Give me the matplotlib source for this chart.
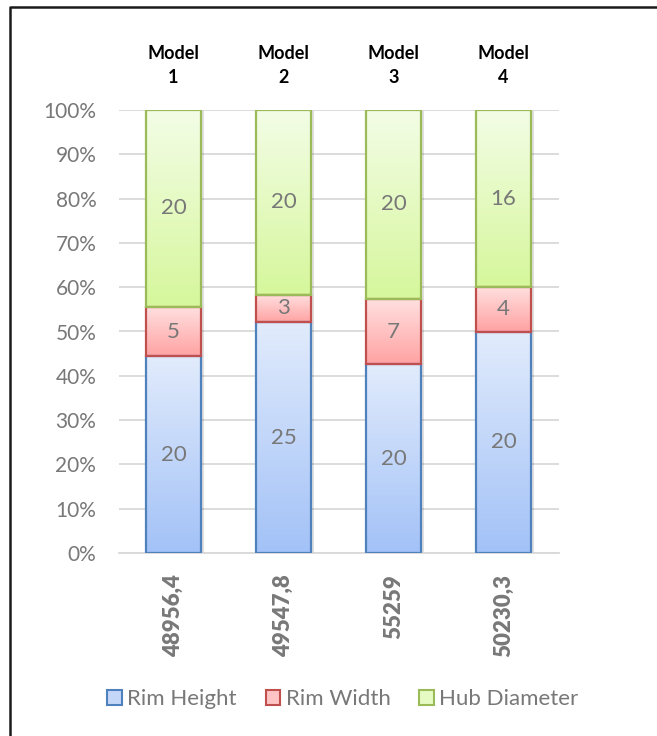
import numpy as np
import matplotlib.pyplot as plt
import matplotlib.patheffects as pe
from matplotlib.colors import LinearSegmentedColormap
from matplotlib.patches import Patch
from matplotlib.lines import Line2D
from matplotlib.ticker import PercentFormatter, MultipleLocator

plt.rcParams['font.family'] = ['Lato', 'DejaVu Sans']

# data
models = ['Model\n1', 'Model\n2', 'Model\n3', 'Model\n4']
total_labels = ['48956,4', '49547,8', '55259', '50230,3']
series_names = ['Rim Height', 'Rim Width', 'Hub Diameter']
rim_height = [20, 25, 20, 20]
rim_width = [5, 3, 7, 4]
hub_diameter = [20, 20, 20, 16]

# colours: gradient top / bottom and outline per series
grad_top = ['#e1ebfc', '#ffe0e0', '#f3fde6']
grad_bottom = ['#a3c2f7', '#ffa3a3', '#d6f79c']
edge_cols = ['#4f81bd', '#c0504d', '#9bbb59']
legend_fill = ['#c4d7f9', '#ffc4c4', '#e6fbc4']
text_grey = '#787878'

values = np.array([rim_height, rim_width, hub_diameter], dtype=float)
shares = values / values.sum(axis=0)
x = np.arange(len(models))

fig = plt.figure(figsize=(6.57, 7.36), dpi=100)
ax = fig.add_axes([118.5 / 657, 1 - 553 / 736, 440 / 657, 443 / 736])

bottom = np.zeros(len(x))
for i in range(len(series_names)):
    bars = ax.bar(x, shares[i], 0.5, bottom=bottom, color=grad_bottom[i], zorder=2)
    cmap = LinearSegmentedColormap.from_list('g%d' % i, [grad_bottom[i], grad_top[i]])
    for b in bars:
        b.set_path_effects([pe.SimplePatchShadow(offset=(2, -1), shadow_rgbFace='k', alpha=0.12), pe.Normal()])
        x0, y0 = b.get_x(), b.get_y()
        im = ax.imshow(np.linspace(0, 1, 100).reshape(-1, 1), cmap=cmap, origin='lower', aspect='auto',
                       extent=[x0, x0 + b.get_width(), y0, y0 + b.get_height()], zorder=3)
        im.set_clip_path(b)
    ax.bar(x, shares[i], 0.5, bottom=bottom, fill=False, edgecolor=edge_cols[i], linewidth=1.6, zorder=4)
    for xi, s, b0, v in zip(x, shares[i], bottom, values[i]):
        ax.text(xi, b0 + s / 2, '%d' % v, ha='center', va='center', fontsize=16, color=text_grey, zorder=5)
    bottom += shares[i]

ax.set_xlim(-0.5, len(x) - 0.5)
ax.set_ylim(0, 1)

# model names above the bars
for xi, m in zip(x, models):
    ax.annotate(m, (xi, 1), xycoords=('data', 'axes fraction'), xytext=(0, 32), textcoords='offset points',
                ha='center', va='center', fontsize=13, fontweight='bold', linespacing=1.45, annotation_clip=False)

ax.set_xticks(x, total_labels, rotation=90, fontsize=16, fontweight='heavy', color=text_grey)
ax.tick_params(axis='x', length=0, pad=15)
ax.yaxis.set_major_locator(MultipleLocator(0.1))
ax.yaxis.set_major_formatter(PercentFormatter(1, decimals=0))
ax.tick_params(axis='y', length=0, pad=16, labelsize=15, labelcolor=text_grey)
ax.grid(axis='y', color='#d9d9d9', linewidth=1.3, zorder=0)
ax.set_axisbelow(True)
for side in ['top', 'right', 'left']:
    ax.spines[side].set_visible(False)
ax.spines['bottom'].set_color('#d9d9d9')
ax.spines['bottom'].set_linewidth(1.3)

handles = [Patch(facecolor=legend_fill[i], edgecolor=edge_cols[i], linewidth=1.5) for i in range(3)]
fig.legend(handles, series_names, loc='center', bbox_to_anchor=(343 / 657, 1 - 699 / 736), ncol=3,
           frameon=False, fontsize=16, labelcolor=text_grey, handlelength=0.65, handleheight=0.65,
           handletextpad=0.25, columnspacing=1.3)

# frame round the chart (cut off at right and bottom)
fig.add_artist(Line2D([10 / 657, 10 / 657, 1.01], [-0.01, 1 - 7 / 736, 1 - 7 / 736],
                      transform=fig.transFigure, color='#1a1a1a', linewidth=1.8))

fig.savefig('out.png', dpi=100)
